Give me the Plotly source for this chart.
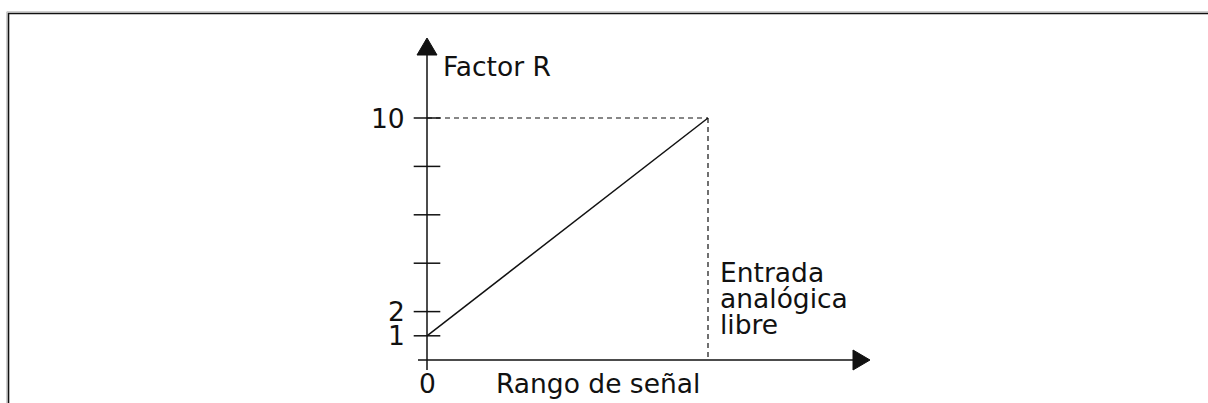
import plotly.graph_objects as go

W, H = 1208, 403

# chart data
signal = [0, 1]
factor = [1, 10]
tick_vals = [1, 2, 4, 6, 8, 10]
label_vals = [1, 2, 10]
label_text = ["1", "2", "10"]
y_title = "Factor R"
x_title = "Rango de señal"
x_zero = "0"
note_lines = ["Entrada", "analógica", "libre"]

# pixel anchors of the sketch (signal 0..1, factor 0..10)
X0_PX, X1_PX = 427, 708
Y0_PX, Y10_PX = 360, 118
kx = X1_PX - X0_PX
ky = (Y0_PX - Y10_PX) / 10


def dx(px):
    return (px - X0_PX) / kx


def dy(py):
    return (Y0_PX - py) / ky


INK = "#111111"
FONT = dict(family="DejaVu Sans, Verdana, sans-serif", size=26.5, color=INK)

fig = go.Figure()

# the ramp
fig.add_trace(go.Scatter(
    x=signal, y=factor, mode="lines",
    line=dict(color=INK, width=1.5), hoverinfo="skip", showlegend=False,
))

# y ticks crossing the axis
fig.add_trace(go.Scatter(
    x=[signal[0]] * len(tick_vals), y=tick_vals, mode="markers",
    marker=dict(symbol="line-ew", size=19, line=dict(color=INK, width=1.5)),
    hoverinfo="skip", showlegend=False,
))

shapes = []
# axes
shapes.append(dict(type="line", x0=0, x1=0, y0=dy(370), y1=dy(55),
                   line=dict(color=INK, width=1.5)))
shapes.append(dict(type="line", x0=dx(418), x1=dx(854), y0=0, y1=0,
                   line=dict(color=INK, width=1.5)))
# arrow heads
shapes.append(dict(
    type="path", fillcolor=INK, line=dict(color=INK, width=1),
    path=f"M {dx(427)},{dy(38)} L {dx(417)},{dy(55)} L {dx(437)},{dy(55)} Z"))
shapes.append(dict(
    type="path", fillcolor=INK, line=dict(color=INK, width=1),
    path=f"M {dx(870)},0 L {dx(853)},{dy(350)} L {dx(853)},{dy(370)} Z"))
# dashed guides to the end point
shapes.append(dict(type="line", x0=signal[0], x1=signal[-1], y0=factor[-1], y1=factor[-1],
                   line=dict(color=INK, width=1.2, dash="5px,4px")))
shapes.append(dict(type="line", x0=signal[-1], x1=signal[-1], y0=factor[-1], y1=0,
                   line=dict(color=INK, width=1.2, dash="5px,4px")))
# page frame
for col, off in (("#bbbbbb", -1.2), ("#111111", 0.5)):
    shapes.append(dict(type="path", xref="paper", yref="paper",
                       path=f"M {(8 + off) / W},0 L {(8 + off) / W},{1 - (13 + off) / H} "
                            f"L 1,{1 - (13 + off) / H}",
                       line=dict(color=col, width=1.6 if off > 0 else 1)))

annotations = []
annotations.append(dict(x=dx(441), y=dy(66), text=y_title, xanchor="left",
                        yanchor="middle", showarrow=False, font=FONT))
for v, t in zip(label_vals, label_text):
    annotations.append(dict(x=dx(407), y=v, text=t, xanchor="right",
                            yanchor="middle", showarrow=False, font=FONT))
annotations.append(dict(x=0, y=dy(383), text=x_zero, xanchor="center",
                        yanchor="middle", showarrow=False, font=FONT))
annotations.append(dict(x=dx(494), y=dy(383), text=x_title, xanchor="left",
                        yanchor="middle", showarrow=False, font=FONT))
for i, t in enumerate(note_lines):
    annotations.append(dict(x=dx(718), y=dy(272 + i * 26.3), text=t, xanchor="left",
                            yanchor="middle", showarrow=False, font=FONT))

fig.update_layout(
    width=W, height=H,
    margin=dict(l=0, r=0, t=0, b=0),
    paper_bgcolor="white", plot_bgcolor="white",
    xaxis=dict(range=[dx(0), dx(W)], visible=False, fixedrange=True),
    yaxis=dict(range=[dy(H), dy(0)], visible=False, fixedrange=True),
    shapes=shapes, annotations=annotations,
)

fig.write_html("out.html", config={"displayModeBar": False},
               post_script="document.body.style.margin='0';document.body.style.overflow='hidden';")
